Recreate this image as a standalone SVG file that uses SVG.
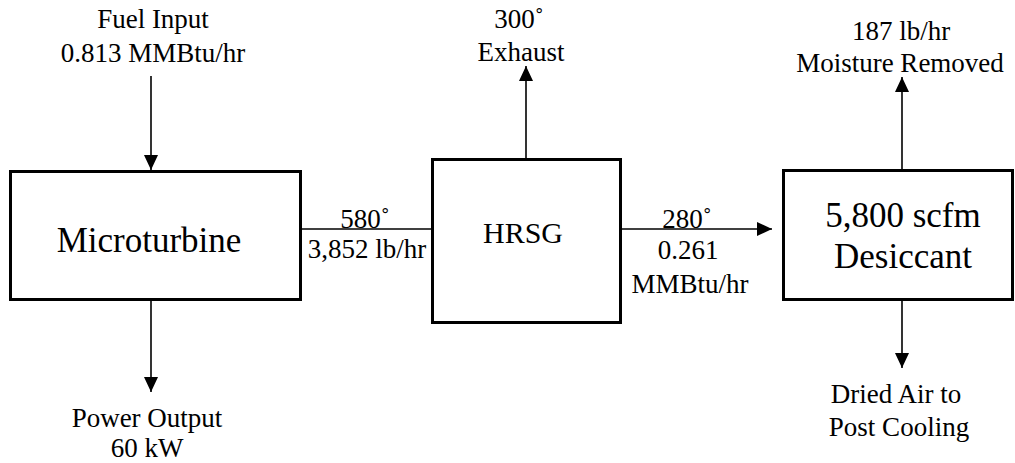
<svg xmlns="http://www.w3.org/2000/svg" width="1015" height="463" viewBox="0 0 1015 463">
  <defs>
    <style>
      .box { fill: #ffffff; stroke: #000000; stroke-width: 3; }
      .conn { stroke: #000000; stroke-width: 1.6; fill: none; }
      .big { font-family: "Liberation Serif", "Times New Roman", serif; font-size: 35px; fill: #000000; text-anchor: middle; }
      .mid { font-family: "Liberation Serif", "Times New Roman", serif; font-size: 30px; fill: #000000; text-anchor: middle; }
      .lbl { font-family: "Liberation Serif", "Times New Roman", serif; font-size: 27px; fill: #000000; text-anchor: middle; }
    </style>
    <marker id="arrow" markerUnits="userSpaceOnUse" markerWidth="16" markerHeight="16" viewBox="0 0 16 16" refX="15" refY="8" orient="auto">
      <path d="M0,1 L15,8 L0,15 Z" fill="#000000"/>
    </marker>
  </defs>
  <rect width="1015" height="463" fill="#ffffff"/>

  <g id="connectors">
    <line class="conn" x1="151" y1="76" x2="151" y2="170" marker-end="url(#arrow)"/>
    <line class="conn" x1="151" y1="300" x2="151" y2="392" marker-end="url(#arrow)"/>
    <line class="conn" x1="301" y1="229" x2="432" y2="229"/>
    <line class="conn" x1="526" y1="158" x2="526" y2="66" marker-end="url(#arrow)"/>
    <line class="conn" x1="621" y1="229" x2="772" y2="229" marker-end="url(#arrow)"/>
    <line class="conn" x1="902" y1="170" x2="902" y2="77" marker-end="url(#arrow)"/>
    <line class="conn" x1="902" y1="300" x2="902" y2="368" marker-end="url(#arrow)"/>
  </g>

  <g id="microturbine">
    <rect class="box" x="10.5" y="171.5" width="290" height="128"/>
    <text class="big" x="149" y="252">Microturbine</text>
  </g>

  <g id="hrsg">
    <rect class="box" x="432.5" y="159.5" width="188" height="163"/>
    <text class="mid" x="523" y="243">HRSG</text>
  </g>

  <g id="desiccant">
    <rect class="box" x="783.5" y="170.5" width="229" height="129"/>
    <text class="big" x="903" y="227">5,800 scfm</text>
    <text class="big" x="903" y="268">Desiccant</text>
  </g>

  <g id="fuel-input-label">
    <text class="lbl" x="153" y="28">Fuel Input</text>
    <text class="lbl" x="153" y="62">0.813 MMBtu/hr</text>
  </g>

  <g id="power-output-label">
    <text class="lbl" x="147" y="427">Power Output</text>
    <text class="lbl" x="147" y="457">60 kW</text>
  </g>

  <g id="exhaust-label">
    <text class="lbl" x="519" y="28">300˚</text>
    <text class="lbl" x="521" y="61">Exhaust</text>
  </g>

  <g id="microturbine-hrsg-label">
    <text class="lbl" x="365" y="228">580˚</text>
    <text class="lbl" x="367" y="258">3,852 lb/hr</text>
  </g>

  <g id="hrsg-desiccant-label">
    <text class="lbl" x="687" y="228">280˚</text>
    <text class="lbl" x="688" y="259">0.261</text>
    <text class="lbl" x="690" y="293">MMBtu/hr</text>
  </g>

  <g id="moisture-label">
    <text class="lbl" x="901" y="40">187 lb/hr</text>
    <text class="lbl" x="900" y="72">Moisture Removed</text>
  </g>

  <g id="dried-air-label">
    <text class="lbl" x="896" y="403">Dried Air to</text>
    <text class="lbl" x="899" y="436">Post Cooling</text>
  </g>
</svg>
